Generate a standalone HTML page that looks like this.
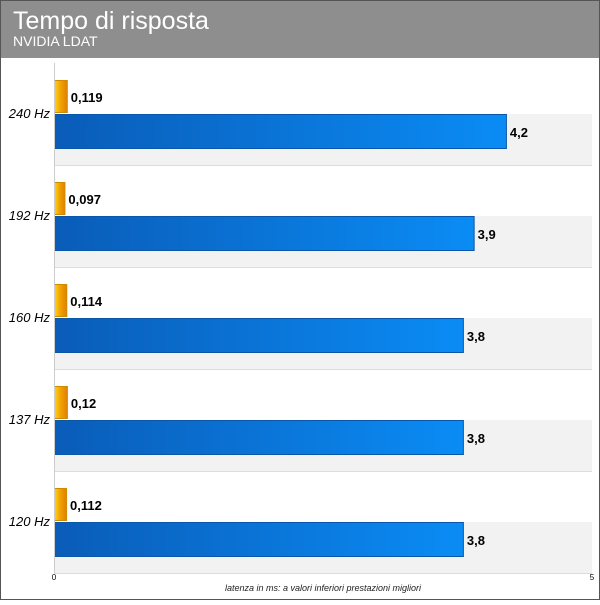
<!DOCTYPE html>
<html><head><meta charset="utf-8"><style>
body{margin:0;background:#fff;font-family:"Liberation Sans",sans-serif}
</style></head><body>
<svg width="600" height="600" xmlns="http://www.w3.org/2000/svg">
<defs>
<linearGradient id="gb" x1="0" x2="1" y1="0" y2="0"><stop offset="0" stop-color="#0a5cb8"/><stop offset="1" stop-color="#0a8cf5"/></linearGradient>
<linearGradient id="gy" x1="0" x2="1" y1="0" y2="0"><stop offset="0" stop-color="#ffd21a"/><stop offset="0.5" stop-color="#f0a000"/><stop offset="1" stop-color="#e08000"/></linearGradient>
</defs>
<rect x="0" y="0" width="600" height="600" fill="#fff"/>
<rect x="0" y="0" width="600" height="58" fill="#8e8e8e"/>
<text x="13" y="29" font-size="25" fill="#fff">Tempo di risposta</text>
<text x="13" y="46" font-size="14" fill="#fff">NVIDIA LDAT</text>
<g id="plot"></g>
<text x="323" y="591" font-size="9" font-style="italic" text-anchor="middle" fill="#222">latenza in ms: a valori inferiori prestazioni migliori</text>
<rect x="0.5" y="0.5" width="599" height="599" fill="none" stroke="#555"/>
</svg>
<script>
const categories=["240 Hz","192 Hz","160 Hz","137 Hz","120 Hz"];
const ldatValues=[0.119,0.097,0.114,0.12,0.112];
const mainValues=[4.2,3.9,3.8,3.8,3.8];
const ldatLabels=["0,119","0,097","0,114","0,12","0,112"];
const mainLabels=["4,2","3,9","3,8","3,8","3,8"];
const xTicks=[0,5];
const NS="http://www.w3.org/2000/svg";
const plotG=document.getElementById('plot');
const x0=54,x1=592,plotTop=63,gh=102;
const xs=v=>x0+(x1-x0)*v/5;
function el(t,a){const e=document.createElementNS(NS,t);for(const k in a)e.setAttribute(k,a[k]);plotG.appendChild(e);return e;}
categories.forEach((c,i)=>{
  const y=plotTop+i*gh;
  const band=el('rect',{x:x0,y:y+51,width:x1-x0,height:51,fill:'#f2f2f2'});
  
  
  const sep=el('line',{x1:x0,x2:x1,y1:y+gh+0.5,y2:y+gh+0.5,stroke:'#ddd'});
  
  
  const yb=el('rect',{x:x0+0.5,y:y+17.5,width:xs(ldatValues[i])-x0,height:32,fill:'url(#gy)',stroke:'#d08a00'});
  
  
  const bb=el('rect',{x:x0+0.5,y:y+51.5,width:xs(mainValues[i])-x0,height:34,fill:'url(#gb)',stroke:'#0a56a8'});
  
  
  const t1=el('text',{x:xs(ldatValues[i])+4,y:y+39,'font-size':13,'font-weight':'bold',fill:'#000'});
  t1.textContent=ldatLabels[i];
  
  
  const t2=el('text',{x:xs(mainValues[i])+4,y:y+74,'font-size':13,'font-weight':'bold',fill:'#000'});
  t2.textContent=mainLabels[i];
  
  
  const cl=el('text',{x:x0-4,y:y+55,'font-size':13,'font-style':'italic','text-anchor':'end',fill:'#000'});
  cl.textContent=c;
  
  
});
const ax=el('line',{x1:x0+0.5,x2:x0+0.5,y1:plotTop,y2:plotTop+5*gh,stroke:'#ccc'});


xTicks.forEach(v=>{
  const t=el('text',{x:xs(v),y:580,'font-size':8,'text-anchor':'middle',fill:'#000'});
  t.textContent=v;
  
  
});
</script>
</body></html>
